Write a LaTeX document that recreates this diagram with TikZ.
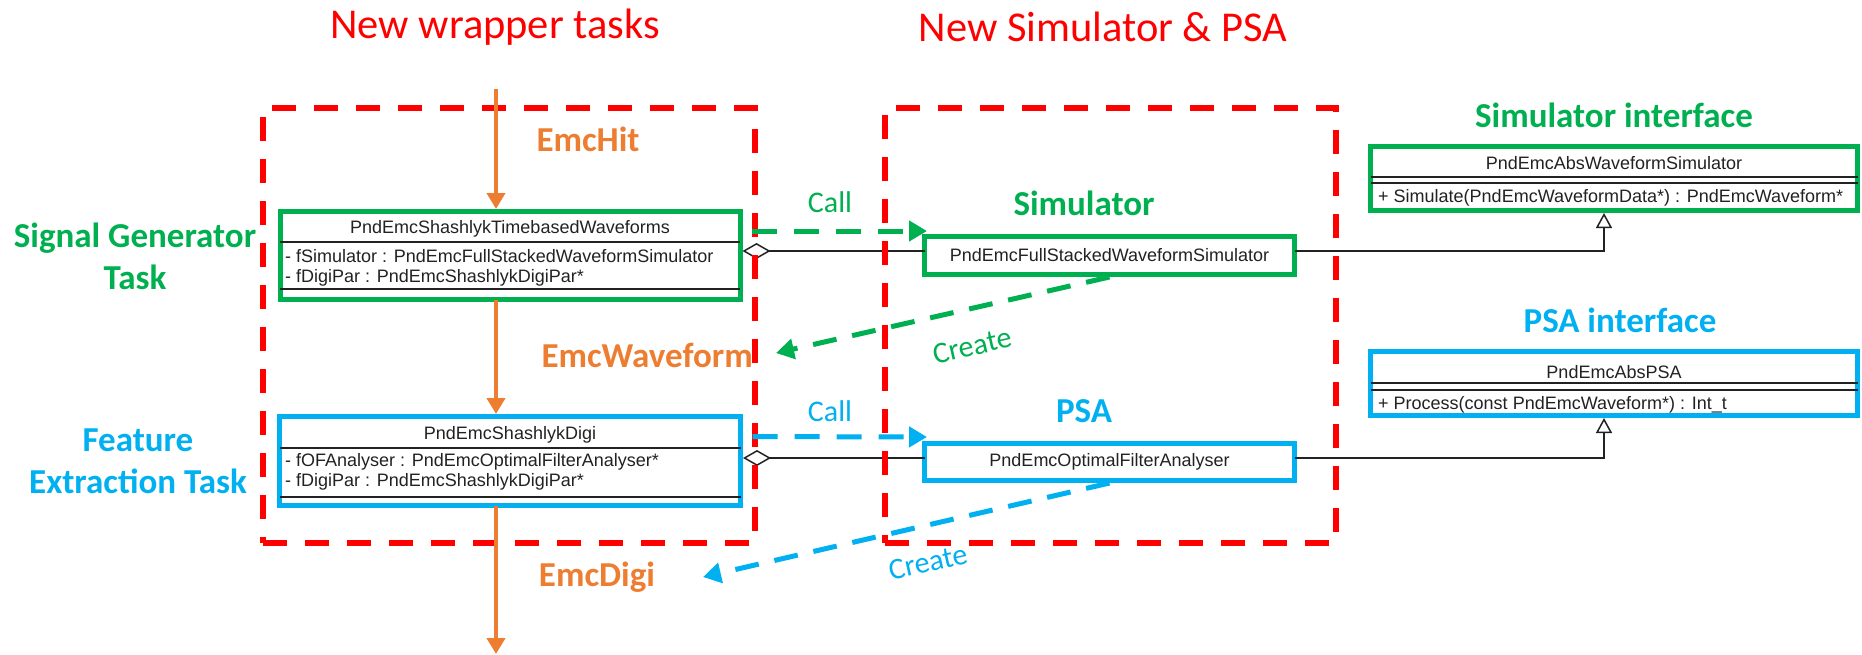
\documentclass[tikz,border=0pt]{standalone}
\usepackage{fontspec}
\setmainfont{Carlito}
\newfontfamily\umlfont{Liberation Sans}
\usetikzlibrary{arrows.meta,calc}
\definecolor{sgreen}{HTML}{00B050}
\definecolor{sblue}{HTML}{00B0F0}
\definecolor{sred}{HTML}{FF0000}
\definecolor{sorange}{HTML}{ED7D31}
\definecolor{umlgray}{HTML}{222222}
\tikzset{
  umlbox/.style={draw, line width=5pt, fill=white, inner sep=0pt, outer sep=0pt, font=\umlfont\fontsize{18}{21}\selectfont, text=umlgray},
  sepline/.style={draw=umlgray, line width=1.2pt},
  umltext/.style={font=\umlfont\fontsize{18}{21}\selectfont, text=umlgray, inner sep=0pt},
  headlbl/.style={font=\fontsize{35}{42}\selectfont\bfseries, inner sep=0pt},
  titlelbl/.style={font=\fontsize{42.5}{50}\selectfont, text=sred, inner sep=0pt},
  calllbl/.style={font=\fontsize{30}{36}\selectfont, inner sep=0pt},
  flow/.style={draw=sorange, line width=4pt, -{Triangle[length=16pt,width=18pt]}},
  callarrow/.style={line width=5pt, dash pattern=on 25pt off 17pt, -{Triangle[length=18pt,width=20pt]}},
  grouprect/.style={draw=sred, line width=6pt, dash pattern=on 24pt off 18pt, inner sep=0pt, outer sep=0pt},
  umlline/.style={draw=umlgray, line width=1.5pt}
}
\begin{document}
\begin{tikzpicture}[x=1pt,y=-1pt]
\useasboundingbox (0,0) rectangle (1862,654);

% UML boxes
\node[umlbox, draw=sgreen, minimum width=460pt, minimum height=88pt] (gen) at (510,255.5) {};
\node[umlbox, draw=sblue, minimum width=461pt, minimum height=89pt] (digi) at (510,461) {};
\node[umlbox, draw=sgreen, minimum width=370pt, minimum height=38pt] (sim) at (1109.5,255.5) {PndEmcFullStackedWaveformSimulator};
\node[umlbox, draw=sblue, minimum width=370pt, minimum height=37pt] (psa) at (1109.5,462) {PndEmcOptimalFilterAnalyser};
\node[umlbox, draw=sgreen, minimum width=487pt, minimum height=64pt] (simif) at (1614,178.5) {};
\node[umlbox, draw=sblue, minimum width=487pt, minimum height=64pt] (psaif) at (1614,383.5) {};

% gen contents
\node[umltext] (gentitle) at (510,229) {PndEmcShashlykTimebasedWaveforms};
\draw[sepline] (gen.west |- 0,242) -- (gen.east |- 0,242);
\node[umltext, anchor=west] (genattr1) at (285,256) {- fSimulator : PndEmcFullStackedWaveformSimulator};
\node[umltext, anchor=west] (genattr2) at (285,278) {- fDigiPar : PndEmcShashlykDigiPar*};
\draw[sepline] (gen.west |- 0,289) -- (gen.east |- 0,289);

% digi contents
\node[umltext] (digititle) at (510,435) {PndEmcShashlykDigi};
\draw[sepline] (digi.west |- 0,448) -- (digi.east |- 0,448);
\node[umltext, anchor=west] (digiattr1) at (285,462) {- fOFAnalyser : PndEmcOptimalFilterAnalyser*};
\node[umltext, anchor=west] (digiattr2) at (285,482) {- fDigiPar : PndEmcShashlykDigiPar*};
\draw[sepline] (digi.west |- 0,497) -- (digi.east |- 0,497);

% simulator interface contents
\node[umltext] (simiftitle) at (1614,163) {PndEmcAbsWaveformSimulator};
\draw[sepline] (simif.west |- 0,177) -- (simif.east |- 0,177);
\draw[sepline] (simif.west |- 0,183) -- (simif.east |- 0,183);
\node[umltext, anchor=west] (simifop) at (1378,198) {+ Simulate(PndEmcWaveformData*) : PndEmcWaveform*};

% PSA interface contents
\node[umltext] (psaiftitle) at (1614,372) {PndEmcAbsPSA};
\draw[sepline] (psaif.west |- 0,383) -- (psaif.east |- 0,383);
\draw[sepline] (psaif.west |- 0,390) -- (psaif.east |- 0,390);
\node[umltext, anchor=west] (psaifop) at (1378,405) {+ Process(const PndEmcWaveform*) : Int\_t};

% UML connectors
\draw[umlline, {Diamond[fill=white,length=28pt,width=16pt]}-] ([xshift=2.5pt,yshift=4.5pt]gen.east) -- ([yshift=4.5pt]sim.west);
\draw[umlline, -{Triangle[fill=white,length=15pt,width=16pt]}] ([yshift=4.5pt]sim.east) -| ([xshift=-10pt,yshift=-2.5pt]simif.south);
\draw[umlline, {Diamond[fill=white,length=28pt,width=16pt]}-] ([xshift=2.5pt,yshift=3pt]digi.east) -- ([yshift=4pt]psa.west);
\draw[umlline, -{Triangle[fill=white,length=15pt,width=16pt]}] ([yshift=4pt]psa.east) -| ([xshift=-10pt,yshift=-2.5pt]psaif.south);

% red group frames
\node[grouprect, minimum width=492pt, minimum height=435pt] (grpL) at (509,325.5) {};
\node[grouprect, minimum width=451pt, minimum height=435pt] (grpR) at (1110.5,325.5) {};

% call / create arrows
\coordinate (wavetip) at (776,353);
\coordinate (digitip) at (703,577);
\draw[callarrow, sgreen] ($(gen.north east)+(12,19.5)$) -- ($(sim.north west)+(2.5,-5.5)$);
\draw[callarrow, sblue] ($(digi.north east)+(12,20)$) -- ($(psa.north west)+(2.5,-6.5)$);
\draw[callarrow, sgreen, dash pattern=on 24pt off 16pt] ($(sim.south)+(0,2.5)$) -- (wavetip);
\draw[callarrow, sblue, dash pattern=on 24pt off 16pt] ($(psa.south)+(0,2.5)$) -- (digitip);

\node[calllbl, text=sgreen] (call1) at (830,202) {Call};
\node[calllbl, text=sblue] (call2) at (830,411) {Call};
\node[calllbl, text=sgreen, rotate=13] (create1) at (972,346) {Create};
\node[calllbl, text=sblue, rotate=12.5] (create2) at (928,562) {Create};

% orange data flow
\coordinate (otop) at (496,89);
\coordinate (obot) at (496,654);
\draw[flow] (otop) -- ([yshift=2.5pt]gen.north -| otop);
\draw[flow] (gen.south -| otop) -- ([yshift=2.5pt]digi.north -| otop);
\draw[flow] (digi.south -| otop) -- (obot);

% labels
\node[titlelbl] (t1) at (495,27) {New wrapper tasks};
\node[titlelbl] (t2) at (1103,27) {New Simulator \& PSA};
\node[headlbl, text=sorange] (hit) at (588,139) {EmcHit};
\node[headlbl, text=sorange, anchor=east] (wave) at (753,355) {EmcWaveform};
\node[headlbl, text=sorange] (digilbl) at (597,577) {EmcDigi};
\node[headlbl, text=sgreen, align=center] (sgt) at (135,256) {Signal Generator\\Task};
\node[headlbl, text=sblue, align=center] (fet) at (138,461) {Feature\\Extraction Task};
\node[headlbl, text=sgreen] (simlbl) at (1084,203) {Simulator};
\node[headlbl, text=sblue] (psalbl) at (1084,411) {PSA};
\node[headlbl, text=sgreen] (simiflbl) at (1614,115) {Simulator interface};
\node[headlbl, text=sblue] (psaiflbl) at (1620,320) {PSA interface};
\end{tikzpicture}
\end{document}
